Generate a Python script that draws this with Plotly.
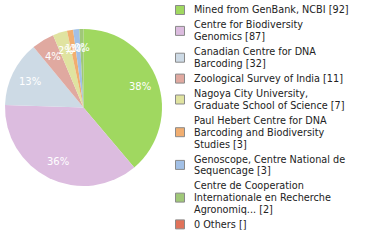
import numpy as np
import plotly.graph_objects as go

labels = [
    "Mined from GenBank, NCBI [92]",
    "Centre for Biodiversity<br>Genomics [87]",
    "Canadian Centre for DNA<br>Barcoding [32]",
    "Zoological Survey of India [11]",
    "Nagoya City University,<br>Graduate School of Science [7]",
    "Paul Hebert Centre for DNA<br>Barcoding and Biodiversity<br>Studies [3]",
    "Genoscope, Centre National de<br>Sequencage [3]",
    "Centre de Cooperation<br>Internationale en Recherche<br>Agronomiq... [2]",
    "0 Others []",
]
values = [92, 87, 32, 11, 7, 3, 3, 2, 0]
pct_text = ["38%", "36%", "13%", "4%", "2%", "1%", "1%", "0%", ""]
colors = ["#a0d860", "#dcbcdf", "#cddae5", "#e0a9a0", "#e0e3a0",
          "#f1ae70", "#a2c0e6", "#a0c878", "#e0725a"]

W, H = 380, 240
# pie geometry (pixels)
px0, px1, py0, py1 = 5, 162, 29, 186
cx, cy = (px0 + px1) / 2, (py0 + py1) / 2
R = (px1 - px0) / 2

fig = go.Figure(go.Pie(
    labels=labels,
    values=values,
    textinfo="none",
    sort=False,
    direction="clockwise",
    rotation=0,
    marker=dict(colors=colors, line=dict(width=0)),
    domain=dict(x=[px0 / W, px1 / W], y=[1 - py1 / H, 1 - py0 / H]),
    hoverinfo="skip",
    showlegend=False,
))

annotations = []
shapes = []

# percentage labels at mid-angle of each slice
vals = np.array(values, dtype=float)
cum = np.cumsum(vals) - vals / 2
mid = cum / vals.sum() * 2 * np.pi
rl = 0.76 * R
for t, a, v in zip(pct_text, mid, vals):
    if v <= 0 or not t:
        continue
    x = cx + rl * np.sin(a)
    y = cy - rl * np.cos(a)
    annotations.append(dict(
        x=x / W, y=1 - y / H, xref="paper", yref="paper",
        text=t, showarrow=False, xanchor="center", yanchor="middle",
        font=dict(family="DejaVu Sans", size=10, color="white"),
    ))

# legend drawn as squares + text
line_h = 11.8
item_step = 15.0
y_line = 10.0
sq = 9
for lab, col in zip(labels, colors):
    lines = lab.split("<br>")
    first = y_line
    for ln in lines:
        annotations.append(dict(
            x=192 / W, y=1 - y_line / H, xref="paper", yref="paper",
            text=ln, showarrow=False, xanchor="left", yanchor="middle",
            font=dict(family="DejaVu Sans", size=9.7, color="#222222"),
        ))
        last = y_line
        y_line += line_h
    y_line = last + item_step
    yc = (first + last) / 2
    shapes.append(dict(
        type="rect", xref="paper", yref="paper",
        x0=175.5 / W, x1=(175.5 + sq) / W,
        y0=1 - (yc - sq / 2) / H, y1=1 - (yc + sq / 2) / H,
        fillcolor=col, line=dict(color="#8a8a8a", width=1),
    ))

fig.update_layout(
    width=W, height=H,
    margin=dict(l=0, r=0, t=0, b=0),
    paper_bgcolor="white",
    plot_bgcolor="white",
    annotations=annotations,
    shapes=shapes,
)

fig.write_html("out.html")
